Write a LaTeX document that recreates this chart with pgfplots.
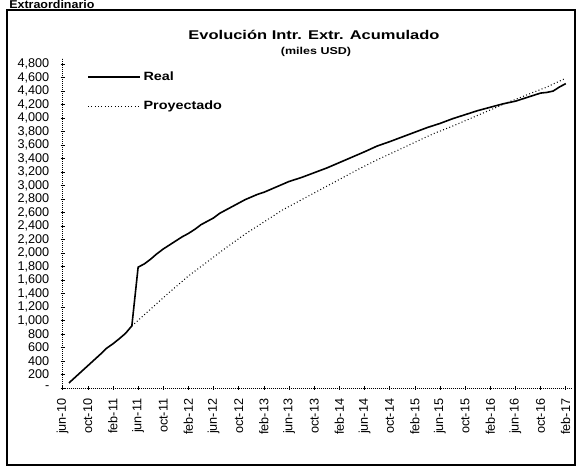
\documentclass[border=0pt]{standalone}
\usepackage{pgfplots}
\pgfplotsset{compat=1.18}
\usepackage{fontspec}
\setmainfont{Liberation Sans}
\begin{document}
\begin{tikzpicture}[x=0.75pt,y=0.75pt]
\useasboundingbox (0,0) rectangle (576,468);
\clip (0,0) rectangle (576,468);
% outer frame
\draw[line width=0.9pt,black] (7,3) rectangle (575,458);
\node[anchor=base west,inner sep=0pt] at (9,459.5) {\fontsize{8.5pt}{10pt}\selectfont\bfseries\scalebox{1.1}[1]{Extraordinario}};
% titles
\node[inner sep=0pt] at (314,433) {\fontsize{9.5pt}{11pt}\selectfont\bfseries\scalebox{1.3}[1]{Evolución Intr. Extr. Acumulado}};
\node[inner sep=0pt] at (316,416) {\fontsize{7.5pt}{8.5pt}\selectfont\bfseries\scalebox{1.25}[1]{(miles USD)}};
\begin{axis}[
  at={(47.0pt,60pt)}, anchor=origin,
  scale only axis,
  width=382pt, height=247.5pt,
  xmin=0, xmax=81,
  ymin=0, ymax=4890,
  axis lines=left,
  axis line style={-, black, line width=0.45pt, dash pattern=on 0.6pt off 0.9pt},
  tick align=center,
  major tick length=3pt,
  every tick/.style={black, line width=0.4pt},
  xtick={0,4,...,80},
  xticklabels={jun-10,oct-10,feb-11,jun-11,oct-11,feb-12,jun-12,oct-12,feb-13,jun-13,oct-13,feb-14,jun-14,oct-14,feb-15,jun-15,oct-15,feb-16,jun-16,oct-16,feb-17},
  xticklabel style={rotate=90, anchor=east, font=\fontsize{9.5pt}{11pt}\selectfont, xshift=-3pt},
  ytick={0,200,...,4800},
  yticklabels={-,200,400,600,800,{1,000},{1,200},{1,400},{1,600},{1,800},{2,000},{2,200},{2,400},{2,600},{2,800},{3,000},{3,200},{3,400},{3,600},{3,800},{4,000},{4,200},{4,400},{4,600},{4,800}},
  yticklabel style={font=\fontsize{9.5pt}{11pt}\selectfont, xshift=-5pt},
  legend style={at={(rel axis cs:0.04,0.975)}, anchor=north west, draw=none, fill=none,
    font=\fontsize{9pt}{10pt}\selectfont\bfseries, row sep=10pt},
  legend cell align=left,
  legend image code/.code={\draw[#1] (0pt,0pt) -- (39pt,0pt);},
  clip=false,
]
\addplot[black, line width=1.2pt] coordinates {
(1,75) (2,160) (3,245) (4,330) (5,415) (6,500) (7,590) (8,655) (9,730) (10,810)
(11,920) (12,1790) (13,1840) (14,1910) (15,1990) (16,2060) (17,2120) (18,2180)
(19,2240) (20,2290) (21,2350) (22,2420) (23,2470) (24,2520) (25,2590) (26,2640)
(27,2690) (28,2740) (29,2790) (30,2830) (31,2870) (32,2900) (33,2940) (34,2980)
(35,3020) (36,3060) (38,3120) (40,3190) (42,3260) (44,3340) (46,3420) (48,3500)
(50,3585) (52,3650) (54,3720) (56,3790) (58,3860) (60,3920) (62,3990) (64,4050)
(66,4110) (68,4160) (70,4210) (72,4250) (74,4310) (76,4370) (77,4380) (78,4400)
(79,4460) (80,4510)
};
\addlegendentry{\scalebox{1.2}[1]{Real}}
\addplot[black, line width=0.8pt, dash pattern=on 0.7pt off 1.8pt] coordinates {
(11,920) (14,1170) (17,1420) (20,1660) (23,1870) (26,2080) (29,2280) (32,2460)
(35,2640) (38,2790) (41,2940) (44,3090) (47,3240) (50,3380) (53,3510) (56,3640)
(59,3770) (62,3880) (65,4000) (68,4120) (71,4240) (74,4350) (77,4460) (80,4590)
};
\addlegendentry{\scalebox{1.2}[1]{Proyectado}}
\end{axis}
\end{tikzpicture}
\end{document}
